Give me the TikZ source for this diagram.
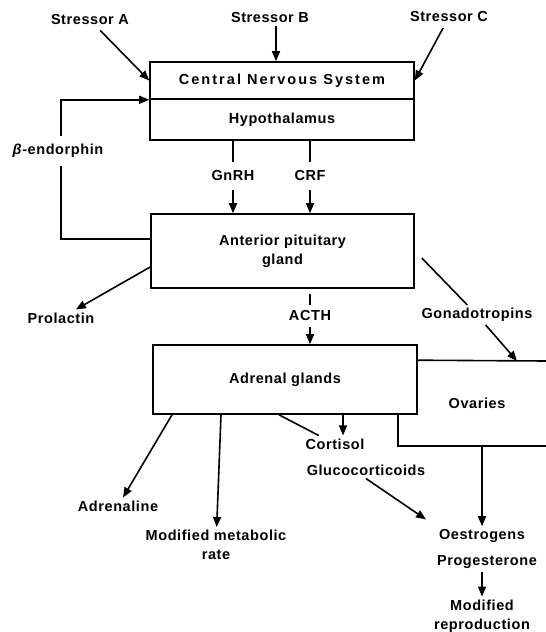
\documentclass[tikz,border=0pt]{standalone}
\usepackage{fontspec}
\setmainfont{Liberation Sans}[LetterSpace=4]
\usetikzlibrary{arrows.meta}

\begin{document}
\begin{tikzpicture}[
        x=1pt, y=-1pt,
        font=\fontsize{14.5}{19}\selectfont\bfseries,
        box/.style={draw, line width=1.6pt, minimum width=264pt, inner sep=0pt, align=center},
        lbl/.style={inner sep=3pt, align=center},
        arr/.style={line width=1.6pt, -{Triangle[length=10pt, width=8pt]}},
        ln/.style={line width=1.6pt}
    ]
        \useasboundingbox (0,0) rectangle (546,632);

        \node[lbl] (sa) at (90,20) {Stressor A};
        \node[lbl] (sb) at (270,18) {Stressor B};
        \node[lbl] (sc) at (449,17) {Stressor C};

        \node[box, minimum height=37pt] (cns) at (282,80.5) {\addfontfeature{LetterSpace=14}Central Nervous System};
        \node[box, minimum height=41pt] (hypo) at (282,119.5) {Hypothalamus};
        \node[box, minimum height=74pt, minimum width=263pt] (ant) at (282.5,251) {Anterior pituitary\\gland};
        \node[box, minimum height=69pt] (adr) at (285,379.5) {Adrenal glands};

        \draw[arr, shorten <=3pt] (sa) -- (cns.west);
        \draw[arr] ([xshift=6pt]sb.south) -- ([xshift=6pt]sb.south |- cns.north);
        \draw[arr, shorten <=3pt] (sc) -- (cns.east);

        \node[lbl, inner ysep=8pt] (beta) at (58,151) {\textit{β}-endorphin};
        \draw[arr] ([xshift=3pt]beta.north) |- (cns.south west);
        \draw[ln] ([xshift=3pt]beta.south) |- ([yshift=12pt]ant.west);

        \node[lbl, inner ysep=9pt] (gnrh) at (233,176) {GnRH};
        \node[lbl, inner ysep=9pt] (crf) at (310,176) {CRF};
        \draw[ln] (hypo.south -| gnrh.north) -- (gnrh.north);
        \draw[arr] (gnrh.south) -- (gnrh.south |- ant.north);
        \draw[ln] (hypo.south -| crf.north) -- (crf.north);
        \draw[arr] (crf.south) -- (crf.south |- ant.north);

        \node[lbl] (prol) at (61,318) {Prolactin};
        \draw[arr] ([yshift=-16pt]ant.west) -- (prol);

        \node[lbl, inner ysep=6pt] (acth) at (310,316) {ACTH};
        \draw[ln, shorten <=5pt] (ant.south -| acth.north) -- (acth.north);
        \draw[arr] (acth.south) -- (acth.south |- adr.north);

        \node[lbl] (gon) at (477,315) {Gonadotropins};
        \node[lbl] (ova) at (477,403) {Ovaries};
        \coordinate (ovtl) at ([yshift=-16pt]adr.north east);
        \coordinate (ovtr) at (546,361);
        \coordinate (ovhit) at (517,361);
        \coordinate (ovbl) at ([xshift=-20pt]adr.south east);
        \coordinate (ovbr) at (546,446);
        \draw[ln] (ovtl) -- (ovtr);
        \draw[ln] (ovbl) |- (ovbr);
        \draw[ln] ([shift={(7pt,-7pt)}]ant.east) -- (gon);
        \draw[arr] (gon) -- (ovhit);

        \node[lbl] (adrn) at (118,506) {Adrenaline};
        \node[lbl] (meta) at (216,545) {Modified metabolic\\rate};
        \node[lbl] (cort) at (335,444) {Cortisol};
        \node[lbl] (gluc) at (366,470) {Glucocorticoids};
        \node[lbl] (oest) at (482,536) {Oestrogens};
        \node[lbl] (prog) at (487,562) {Progesterone};
        \node[lbl] (repr) at (482,616) {Modified\\reproduction};

        \draw[arr] ([xshift=-113pt]adr.south) -- (adrn);
        \draw[arr] ([xshift=-64pt]adr.south) -- (meta);
        \draw[ln] ([xshift=-6pt]adr.south) -- (cort);
        \draw[arr] ([xshift=58pt]adr.south) -- ([xshift=58pt]adr.south |- cort.north);
        \draw[arr, shorten >=12pt] (gluc.south) -- (oest.north west);
        \draw[arr] (ovbr -| oest.north) -- (oest.north);
        \draw[arr] (prog.south -| repr.north) -- (repr.north);
    \end{tikzpicture}
\end{document}
